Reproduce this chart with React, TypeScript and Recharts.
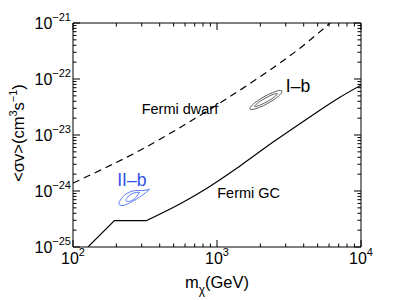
import React from 'react';
import { ComposedChart, Line, XAxis, YAxis, ReferenceDot, Label } from 'recharts';

const FONT = '"Liberation Sans", Arial, Helvetica, sans-serif';

// Fermi dwarf limit (dashed)
const dwarfMass = [100, 160, 275, 470, 800, 1100, 2200, 3750, 6100];
const dwarfSigma = [1.38e-24, 2.45e-24, 4.9e-24, 1.06e-23, 2.42e-23, 4.03e-23, 1.31e-22, 3.51e-22, 1e-21];

// Fermi GC limit (solid): low-mass broken part and high-mass curve
const gcLowMass = [127, 194, 322];
const gcLowSigma = [1.0e-25, 2.95e-25, 2.95e-25];
const gcHighMass = [322, 560, 841, 1430, 2440, 4160, 7100, 10000];
const gcHighSigma = [2.95e-25, 6.0e-25, 1.1e-24, 2.75e-24, 7.4e-24, 1.9e-23, 4.68e-23, 7.76e-23];

// I-b contours (black)
const ibOuterMass = [2828, 2770, 2552, 2257, 1976, 1781, 1695, 1731, 1877, 2124, 2425, 2691, 2828];
const ibOuterSigma = [6.11e-23, 5.42e-23, 4.5e-23, 3.68e-23, 3.11e-23, 2.87e-23, 2.91e-23, 3.28e-23, 3.95e-23, 4.83e-23, 5.69e-23, 6.21e-23, 6.11e-23];
const ibInnerMass = [2623, 2516, 2225, 1948, 1827, 1905, 2154, 2460, 2623];
const ibInnerSigma = [5.48e-23, 4.83e-23, 3.93e-23, 3.34e-23, 3.24e-23, 3.68e-23, 4.52e-23, 5.33e-23, 5.48e-23];

// II-b contours (blue)
const iibOuterMass = [340, 304, 272, 243, 221, 209, 212, 228, 259, 290, 324, 340];
const iibOuterSigma = [1.07e-24, 1.02e-24, 1.02e-24, 9.4e-25, 7.8e-25, 6.2e-25, 5.6e-25, 5.6e-25, 6.5e-25, 7.8e-25, 9.6e-25, 1.07e-24];
const iibInnerMass = [290, 263, 243, 233, 243, 267, 290];
const iibInnerSigma = [9.5e-25, 9.2e-25, 8.1e-25, 6.8e-25, 6.5e-25, 7.2e-25, 9.5e-25];

// ticks
const xTicks = [100, 200, 300, 400, 500, 600, 700, 800, 900, 1000, 2000, 3000, 4000, 5000, 6000, 7000, 8000, 9000, 10000];
const xMajor = [100, 1000, 10000];
const xMajorExp = ['2', '3', '4'];
const yTicks = [
  1e-25, 2e-25, 3e-25, 4e-25, 5e-25, 6e-25, 7e-25, 8e-25, 9e-25,
  1e-24, 2e-24, 3e-24, 4e-24, 5e-24, 6e-24, 7e-24, 8e-24, 9e-24,
  1e-23, 2e-23, 3e-23, 4e-23, 5e-23, 6e-23, 7e-23, 8e-23, 9e-23,
  1e-22, 2e-22, 3e-22, 4e-22, 5e-22, 6e-22, 7e-22, 8e-22, 9e-22,
  1e-21,
];
const yMajor = [1e-25, 1e-24, 1e-23, 1e-22, 1e-21];
const yMajorExp = ['\u221225', '\u221224', '\u221223', '\u221222', '\u221221'];

// annotations
const annotations = [
  { text: 'Fermi dwarf', m: 553, s: 2.91e-23, color: '#000', size: 14.5 },
  { text: 'Fermi GC', m: 1660, s: 9.2e-25, color: '#000', size: 14.5 },
  { text: 'I\u2013b', m: 3651, s: 7.5e-23, color: '#000', size: 17.5 },
  { text: 'II\u2013b', m: 256, s: 1.57e-24, color: '#2f4fe8', size: 17.5 },
];

const rows = (ms: number[], ss: number[]) => ms.map((m, i) => ({ m, s: ss[i] }));

const MAJ = 7;
const MIN = 3.5;
const TICK_FS = 16;
const SUP_FS = 11;

const idxOf = (arr: number[], v: number) => arr.findIndex((a) => Math.abs(a - v) / a < 1e-6);

const BottomTick = (p: any) => {
  const { x, y, payload } = p;
  const i = idxOf(xMajor, payload.value);
  const major = i >= 0;
  return (
    <g>
      <line x1={x} x2={x} y1={y} y2={y - (major ? MAJ : MIN)} stroke="#000" strokeWidth={1} />
      {major && (
        <text x={x} y={y + 17} textAnchor="middle" fontFamily={FONT} fontSize={TICK_FS} fill="#000">
          <tspan>10</tspan>
          <tspan dy={-8} fontSize={SUP_FS}>{xMajorExp[i]}</tspan>
        </text>
      )}
    </g>
  );
};

const TopTick = (p: any) => {
  const { x, y, payload } = p;
  const major = idxOf(xMajor, payload.value) >= 0;
  return <line x1={x} x2={x} y1={y} y2={y + (major ? MAJ : MIN)} stroke="#000" strokeWidth={1} />;
};

const LeftTick = (p: any) => {
  const { x, y, payload } = p;
  const i = idxOf(yMajor, payload.value);
  const major = i >= 0;
  return (
    <g>
      <line x1={x} x2={x + (major ? MAJ : MIN)} y1={y} y2={y} stroke="#000" strokeWidth={1} />
      {major && (
        <text x={x - 2} y={y + 6} textAnchor="end" fontFamily={FONT} fontSize={TICK_FS} fill="#000">
          <tspan>10</tspan>
          <tspan dy={-8} fontSize={SUP_FS}>{yMajorExp[i]}</tspan>
        </text>
      )}
    </g>
  );
};

const RightTick = (p: any) => {
  const { x, y, payload } = p;
  const major = idxOf(yMajor, payload.value) >= 0;
  return <line x1={x} x2={x - (major ? MAJ : MIN)} y1={y} y2={y} stroke="#000" strokeWidth={1} />;
};

const XTitle = (p: any) => {
  const vb = p.viewBox || { x: 73, width: 288, y: 247 };
  const cx = vb.x + vb.width / 2;
  return (
    <text x={cx} y={vb.y + 41} textAnchor="middle" fontFamily={FONT} fontSize={16.5} fill="#000">
      <tspan>m</tspan>
      <tspan dy={6} fontSize={12}>{'\u03c7'}</tspan>
      <tspan dy={-6}>(GeV)</tspan>
    </text>
  );
};

const YTitle = (p: any) => {
  const vb = p.viewBox || { x: 0, y: 23, height: 224 };
  const cx = vb.x + 24;
  const cy = vb.y + vb.height / 2 - 2;
  return (
    <text x={cx} y={cy} transform={`rotate(-90, ${cx}, ${cy})`} textAnchor="middle" fontFamily={FONT} fontSize={16.5} fill="#000">
      <tspan>{'<\u03c3v>(cm'}</tspan>
      <tspan dy={-7} fontSize={SUP_FS}>3</tspan>
      <tspan dy={7}>s</tspan>
      <tspan dy={-7} fontSize={SUP_FS}>{'\u22121'}</tspan>
      <tspan dy={7}>)</tspan>
    </text>
  );
};

const annotContent = (text: string, color: string, size: number) => (p: any) => {
  const vb = p.viewBox;
  const cx = vb.x + vb.width / 2;
  const cy = vb.y + vb.height / 2;
  return (
    <text x={cx} y={cy} dy="0.35em" textAnchor="middle" fontFamily={FONT} fontSize={size} fill={color}>
      {text}
    </text>
  );
};

export default function App() {
  return (
    <div style={{ position: 'absolute', left: 0, top: 0, background: '#fff' }}>
      <ComposedChart width={399} height={300} margin={{ top: 0, right: 0, bottom: 0, left: 0 }}>
        <XAxis
          xAxisId="b"
          dataKey="m"
          type="number"
          scale="log"
          domain={[100, 10000]}
          allowDataOverflow
          ticks={xTicks}
          interval={0}
          height={53}
          tickSize={0}
          tickMargin={0}
          tickLine={false}
          axisLine={{ stroke: '#000', strokeWidth: 1 }}
          tick={(p: any) => <BottomTick {...p} />}
        >
          <Label content={XTitle} />
        </XAxis>
        <XAxis
          xAxisId="t"
          orientation="top"
          dataKey="m"
          type="number"
          scale="log"
          domain={[100, 10000]}
          allowDataOverflow
          ticks={xTicks}
          interval={0}
          height={23}
          tickSize={0}
          tickMargin={0}
          tickLine={false}
          axisLine={{ stroke: '#000', strokeWidth: 1 }}
          tick={(p: any) => <TopTick {...p} />}
        />
        <YAxis
          yAxisId="l"
          dataKey="s"
          type="number"
          scale="log"
          domain={[1e-25, 1e-21]}
          allowDataOverflow
          ticks={yTicks}
          interval={0}
          width={73}
          tickSize={0}
          tickMargin={0}
          tickLine={false}
          axisLine={{ stroke: '#000', strokeWidth: 1 }}
          tick={(p: any) => <LeftTick {...p} />}
        >
          <Label content={YTitle} />
        </YAxis>
        <YAxis
          yAxisId="r"
          orientation="right"
          dataKey="s"
          type="number"
          scale="log"
          domain={[1e-25, 1e-21]}
          allowDataOverflow
          ticks={yTicks}
          interval={0}
          width={38}
          tickSize={0}
          tickMargin={0}
          tickLine={false}
          axisLine={{ stroke: '#000', strokeWidth: 1 }}
          tick={(p: any) => <RightTick {...p} />}
        />

        <Line xAxisId="b" yAxisId="l" data={rows(dwarfMass, dwarfSigma)} dataKey="s" type="monotone" stroke="#000" strokeWidth={1.2} strokeDasharray="7 5" dot={false} isAnimationActive={false} />
        <Line xAxisId="b" yAxisId="l" data={rows(gcLowMass, gcLowSigma)} dataKey="s" type="linear" stroke="#000" strokeWidth={1.2} dot={false} isAnimationActive={false} />
        <Line xAxisId="b" yAxisId="l" data={rows(gcHighMass, gcHighSigma)} dataKey="s" type="monotone" stroke="#000" strokeWidth={1.2} dot={false} isAnimationActive={false} />
        <Line xAxisId="b" yAxisId="l" data={rows(ibOuterMass, ibOuterSigma)} dataKey="s" type="natural" stroke="#333" strokeWidth={0.8} dot={false} isAnimationActive={false} />
        <Line xAxisId="b" yAxisId="l" data={rows(ibInnerMass, ibInnerSigma)} dataKey="s" type="natural" stroke="#333" strokeWidth={0.8} dot={false} isAnimationActive={false} />
        <Line xAxisId="b" yAxisId="l" data={rows(iibOuterMass, iibOuterSigma)} dataKey="s" type="natural" stroke="#4a6cf0" strokeWidth={0.9} dot={false} isAnimationActive={false} />
        <Line xAxisId="b" yAxisId="l" data={rows(iibInnerMass, iibInnerSigma)} dataKey="s" type="natural" stroke="#4a6cf0" strokeWidth={0.9} dot={false} isAnimationActive={false} />

        {annotations.map((a) => (
          <ReferenceDot
            key={a.text}
            xAxisId="b"
            yAxisId="l"
            x={a.m}
            y={a.s}
            r={1}
            fill="none"
            stroke="none"
            label={{ content: annotContent(a.text, a.color, a.size) }}
          />
        ))}
      </ComposedChart>
    </div>
  );
}
